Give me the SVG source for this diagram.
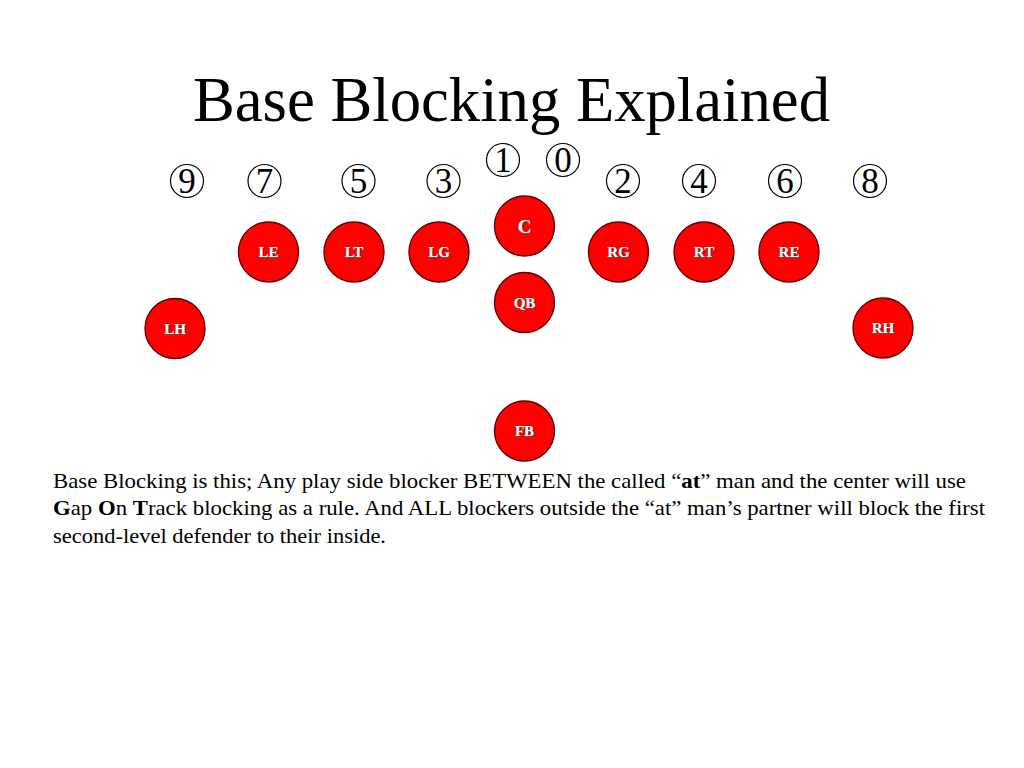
<svg xmlns="http://www.w3.org/2000/svg" width="1024" height="768" viewBox="0 0 1024 768">
<style>
.title{font-family:"Liberation Serif","Times New Roman",serif;font-size:63px;fill:#000}
.num circle{fill:none;stroke:#000;stroke-width:1.2}
.num text{font-family:"Liberation Serif","Times New Roman",serif;font-size:35px;fill:#000;text-anchor:middle}
.player circle{fill:#ff0000;stroke:#5a0000;stroke-width:1.3}
.player text{font-family:"Liberation Serif","Times New Roman",serif;font-weight:bold;font-size:15px;text-anchor:middle}
.player .sh{fill:#555}
.player .lb{fill:#fff}
.body{font-family:"Liberation Serif","Times New Roman",serif;font-size:21px;fill:#000}
</style>
<rect width="1024" height="768" fill="#fff"/>
<text class="title" x="511.5" y="121" text-anchor="middle" textLength="637" lengthAdjust="spacingAndGlyphs">Base Blocking Explained</text>
<g id="holes" class="num">
<g id="hole9"><circle cx="187" cy="181" r="16.5"/><text x="187" y="193">9</text></g>
<g id="hole7"><circle cx="264.5" cy="181" r="16.5"/><text x="264.5" y="193">7</text></g>
<g id="hole5"><circle cx="358.5" cy="181" r="16.5"/><text x="358.5" y="193">5</text></g>
<g id="hole3"><circle cx="443.5" cy="181" r="16.5"/><text x="443.5" y="193">3</text></g>
<g id="hole1"><circle cx="503" cy="160" r="16.5"/><text x="503" y="172">1</text></g>
<g id="hole0"><circle cx="563" cy="160" r="16.5"/><text x="563" y="172">0</text></g>
<g id="hole2"><circle cx="623" cy="181" r="16.5"/><text x="623" y="193">2</text></g>
<g id="hole4"><circle cx="699" cy="181" r="16.5"/><text x="699" y="193">4</text></g>
<g id="hole6"><circle cx="785" cy="181" r="16.5"/><text x="785" y="193">6</text></g>
<g id="hole8"><circle cx="870" cy="181" r="16.5"/><text x="870" y="193">8</text></g>
</g>
<g id="connectors"></g>
<g id="C" class="player"><circle cx="524.5" cy="226" r="30"/><text class="sh" x="525.5" y="234" style="font-size:19px">C</text><text class="lb" x="524.5" y="233" style="font-size:19px">C</text></g>
<g id="LE" class="player"><circle cx="268.5" cy="252" r="30"/><text class="sh" x="269.5" y="258">LE</text><text class="lb" x="268.5" y="257">LE</text></g>
<g id="LT" class="player"><circle cx="354" cy="252" r="30"/><text class="sh" x="355" y="258">LT</text><text class="lb" x="354" y="257">LT</text></g>
<g id="LG" class="player"><circle cx="439" cy="252" r="30"/><text class="sh" x="440" y="258">LG</text><text class="lb" x="439" y="257">LG</text></g>
<g id="RG" class="player"><circle cx="618.5" cy="252" r="30"/><text class="sh" x="619.5" y="258">RG</text><text class="lb" x="618.5" y="257">RG</text></g>
<g id="RT" class="player"><circle cx="704" cy="252" r="30"/><text class="sh" x="705" y="258">RT</text><text class="lb" x="704" y="257">RT</text></g>
<g id="RE" class="player"><circle cx="789" cy="252" r="30"/><text class="sh" x="790" y="258">RE</text><text class="lb" x="789" y="257">RE</text></g>
<g id="QB" class="player"><circle cx="524.5" cy="302.5" r="30"/><text class="sh" x="525.5" y="308.5">QB</text><text class="lb" x="524.5" y="307.5">QB</text></g>
<g id="LH" class="player"><circle cx="175" cy="328.5" r="30"/><text class="sh" x="176" y="334.5">LH</text><text class="lb" x="175" y="333.5">LH</text></g>
<g id="RH" class="player"><circle cx="883" cy="328" r="30"/><text class="sh" x="884" y="334">RH</text><text class="lb" x="883" y="333">RH</text></g>
<g id="FB" class="player"><circle cx="524.5" cy="431" r="30"/><text class="sh" x="525.5" y="437">FB</text><text class="lb" x="524.5" y="436">FB</text></g>
<text class="body" x="53" y="488" textLength="913" lengthAdjust="spacingAndGlyphs">Base Blocking is this; Any play side blocker BETWEEN the called “<tspan font-weight="bold">at</tspan>” man and the center will use</text>
<text class="body" x="53" y="515" textLength="932" lengthAdjust="spacingAndGlyphs"><tspan font-weight="bold">G</tspan>ap <tspan font-weight="bold">O</tspan>n <tspan font-weight="bold">T</tspan>rack blocking as a rule. And ALL blockers outside the “at” man’s partner will block the first</text>
<text class="body" x="53" y="543" textLength="333" lengthAdjust="spacingAndGlyphs">second-level defender to their inside.</text>
</svg>
